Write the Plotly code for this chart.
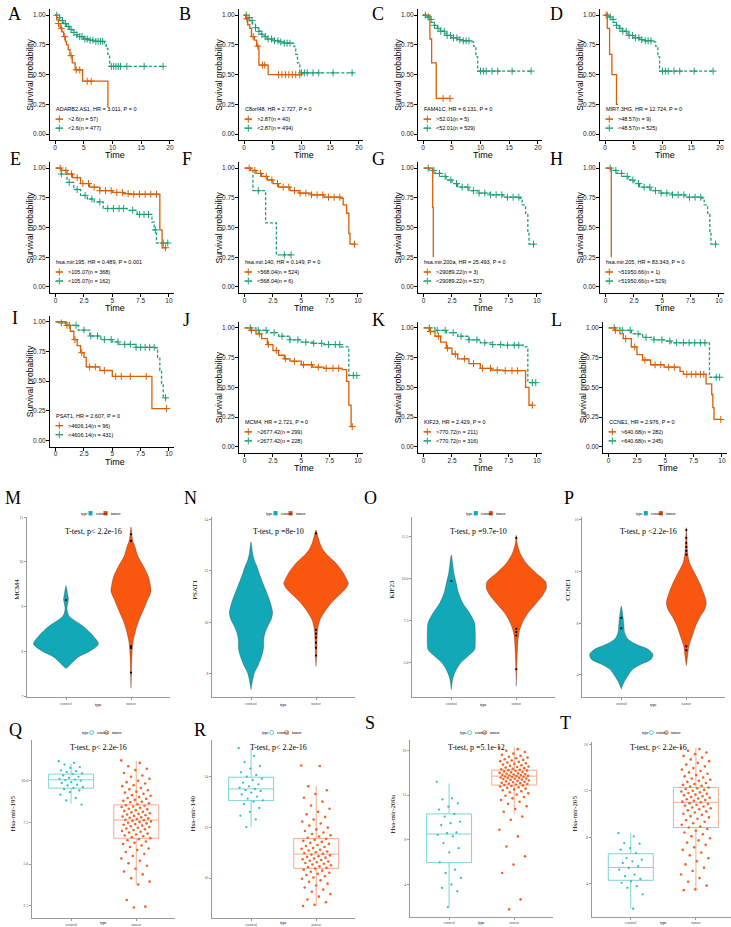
import plotly.graph_objects as go

W, H = 731, 927
OFF = 0
SANS = "Liberation Sans, Arial, sans-serif"
SERIF = "Liberation Serif, Times New Roman, serif"
ORANGE = "#D95F02"
GREEN = "#1B9E77"
V_CTRL = "#12A8B8"
V_TUM = "#F9560F"
B_CTRL = "#35BEC2"
B_TUM = "#F2652A"

# ================= Kaplan-Meier data (time in years, survival probability) =================
A_hi_t = [0, 0.3, 0.6, 0.9, 1.2, 1.5, 1.8, 2.0, 2.3, 2.6, 3.0, 3.5, 4.8, 9.2]
A_hi_s = [1.0, 0.96, 0.93, 0.89, 0.86, 0.82, 0.78, 0.75, 0.71, 0.66, 0.60, 0.54, 0.445, 0.225]
A_hi_c = [0.6, 1.1, 1.7, 2.8, 3.7, 4.3, 5.6, 6.3]
A_lo_t = [0, 0.5, 1, 1.5, 2, 2.5, 3, 3.5, 4, 5, 6, 7, 8.6, 8.9, 9.2, 9.5]
A_lo_s = [1.0, 0.98, 0.955, 0.93, 0.905, 0.88, 0.855, 0.835, 0.82, 0.80, 0.79, 0.78, 0.765, 0.72, 0.67, 0.57]
A_lo_c = [0.3, 0.8, 1.3, 1.8, 2.3, 2.8, 3.3, 3.8, 4.3, 4.7, 5.2, 5.6, 6.1, 6.6, 7.1, 7.5, 7.9, 8.3, 9.8, 10.2, 10.6, 11.0, 11.4, 12.5, 15.5, 18.8]

B_hi_t = [0, 0.3, 0.64, 1.0, 1.3, 1.8, 2.2, 2.6, 4.2]
B_hi_s = [1.0, 0.97, 0.92, 0.89, 0.82, 0.79, 0.74, 0.58, 0.50]
B_hi_c = [0.5, 1.6, 2.4, 3.2, 3.6, 6.0, 6.6, 7.2, 7.8, 8.4, 9.0, 9.7]
B_lo_t = [0, 0.5, 1, 1.5, 2, 2.5, 3, 3.5, 4, 5, 6, 7, 8.7, 9.0, 9.3, 9.7]
B_lo_s = [1.0, 0.98, 0.955, 0.925, 0.895, 0.865, 0.84, 0.82, 0.80, 0.785, 0.775, 0.765, 0.735, 0.67, 0.60, 0.515]
B_lo_c = [0.4, 0.9, 1.4, 2.0, 2.6, 3.1, 3.7, 4.2, 4.8, 5.3, 5.9, 6.4, 7.0, 7.5, 8.0, 10.0, 10.5, 11.0, 12.0, 13.0, 15.5, 18.8]

C_hi_t = [0, 1.2, 1.5, 2.3]
C_hi_s = [1.0, 0.8, 0.6, 0.3]
C_hi_c = [3.5, 4.7]
C_lo_t = [0, 0.5, 1, 1.5, 2, 2.5, 3, 4, 5, 6, 7, 8.5, 8.8, 9.2, 9.5]
C_lo_s = [1.0, 0.985, 0.965, 0.94, 0.915, 0.89, 0.865, 0.83, 0.81, 0.795, 0.785, 0.775, 0.74, 0.65, 0.53]
C_lo_c = [0.4, 0.9, 1.4, 2.0, 2.6, 3.1, 3.7, 4.2, 4.8, 5.3, 5.9, 6.4, 7.0, 7.5, 8.0, 10.0, 10.5, 11.0, 12.0, 13.0, 15.5, 18.8]

D_hi_t = [0, 0.4, 0.8, 1.2, 2.0]
D_hi_s = [1.0, 0.89, 0.67, 0.5, 0.25]
D_hi_c = [0.2]
D_lo_t = [0, 0.5, 1, 1.5, 2, 2.5, 3, 4, 5, 6, 7, 8.5, 8.8, 9.2, 9.5]
D_lo_s = [1.0, 0.985, 0.965, 0.94, 0.915, 0.89, 0.865, 0.83, 0.81, 0.795, 0.785, 0.775, 0.74, 0.65, 0.53]
D_lo_c = [0.4, 0.9, 1.4, 2.0, 2.6, 3.1, 3.7, 4.2, 4.8, 5.3, 5.9, 6.4, 7.0, 7.5, 8.0, 10.0, 10.5, 11.0, 12.0, 13.0, 15.5, 18.8]

E_hi_t = [0, 0.5, 1, 1.5, 2.2, 3, 3.9, 5, 6, 6.5, 9.2, 9.4]
E_hi_s = [1.0, 0.98, 0.95, 0.92, 0.87, 0.84, 0.81, 0.795, 0.785, 0.78, 0.48, 0.33]
E_hi_c = [0.4, 0.9, 1.4, 1.9, 2.4, 2.9, 3.4, 3.9, 4.4, 4.9, 5.4, 5.9, 6.4, 6.9, 7.4, 7.9, 8.4, 8.9, 9.7]
E_lo_t = [0, 0.5, 1, 1.6, 2.2, 2.8, 3.4, 4.2, 6.3, 7.2, 8.5, 8.7, 8.9]
E_lo_s = [1.0, 0.95, 0.88, 0.82, 0.77, 0.74, 0.715, 0.66, 0.645, 0.61, 0.546, 0.48, 0.37]
E_lo_c = [0.5, 1.2, 1.9, 2.6, 3.2, 3.9, 4.6, 5.1, 5.6, 6.0, 6.8, 7.4, 7.8, 8.2, 8.8, 9.5, 9.9]

F_hi_t = [0, 0.5, 1, 1.5, 2, 2.5, 3, 4, 4.8, 5.9, 7, 8.5, 8.7, 9.0, 9.2, 9.3]
F_hi_s = [1.0, 0.98, 0.955, 0.93, 0.90, 0.87, 0.84, 0.81, 0.79, 0.775, 0.755, 0.745, 0.69, 0.62, 0.45, 0.36]
F_hi_c = [0.4, 0.9, 1.4, 1.9, 2.4, 2.9, 3.4, 3.9, 4.4, 4.9, 5.4, 5.9, 6.4, 6.9, 7.4, 7.9, 8.4, 9.7]
F_lo_t = [0, 0.73, 1.85, 2.8]
F_lo_s = [1.0, 0.81, 0.54, 0.27]
F_lo_c = [1.2, 3.5, 4.1]

G_hi_t = [0, 0.8, 0.85]
G_hi_s = [1.0, 0.67, 0.25]
G_hi_c = []
G_lo_t = [0, 0.5, 1, 1.5, 2, 2.5, 3, 4, 4.8, 5.9, 7, 8.5, 8.7, 9.0, 9.2, 9.3]
G_lo_s = [1.0, 0.98, 0.955, 0.93, 0.90, 0.87, 0.84, 0.81, 0.79, 0.775, 0.755, 0.745, 0.69, 0.62, 0.45, 0.36]
G_lo_c = [0.4, 0.9, 1.4, 1.9, 2.4, 2.9, 3.4, 3.9, 4.4, 4.9, 5.4, 5.9, 6.4, 6.9, 7.4, 7.9, 8.4, 9.7]

H_hi_t = [0, 0.5]
H_hi_s = [1.0, 0.25]
H_hi_c = []
H_lo_t = [0, 0.5, 1, 1.5, 2, 2.5, 3, 4, 4.8, 5.9, 7, 8.5, 8.7, 9.0, 9.2, 9.3]
H_lo_s = [1.0, 0.98, 0.955, 0.93, 0.90, 0.87, 0.84, 0.81, 0.79, 0.775, 0.755, 0.745, 0.69, 0.62, 0.45, 0.36]
H_lo_c = [0.4, 0.9, 1.4, 1.9, 2.4, 2.9, 3.4, 3.9, 4.4, 4.9, 5.4, 5.9, 6.4, 6.9, 7.4, 7.9, 8.4, 9.7]

I_hi_t = [0, 0.9, 1.3, 1.6, 1.9, 2.2, 2.5, 2.7, 3.9, 5.0, 8.5]
I_hi_s = [1.0, 0.97, 0.92, 0.85, 0.80, 0.74, 0.70, 0.62, 0.59, 0.54, 0.27]
I_hi_c = [1.0, 1.7, 2.3, 3.0, 3.5, 4.3, 5.3, 5.8, 6.6, 8.0, 9.8]
I_lo_t = [0, 0.5, 1, 2, 3, 4, 5, 5.6, 7.1, 8.8, 9.0, 9.2, 9.35, 9.5]
I_lo_s = [1.0, 0.99, 0.97, 0.93, 0.88, 0.85, 0.83, 0.81, 0.785, 0.78, 0.70, 0.59, 0.48, 0.36]
I_lo_c = [0.5, 1.2, 1.8, 2.5, 3.1, 3.7, 4.3, 4.9, 5.5, 6.1, 6.6, 7.1, 7.5, 7.9, 8.3, 8.7, 9.7]

J_hi_t = [0, 0.5, 1, 1.5, 2, 2.5, 3, 3.5, 4, 5, 6, 7, 8.6, 9.0, 9.2, 9.4]
J_hi_s = [1.0, 0.98, 0.95, 0.91, 0.86, 0.81, 0.77, 0.74, 0.72, 0.69, 0.67, 0.66, 0.65, 0.55, 0.35, 0.17]
J_hi_c = [0.6, 1.3, 2.1, 2.8, 3.6, 4.4, 5.2, 5.9, 6.5, 7.2, 7.8, 8.3, 9.5]
J_lo_t = [0, 1, 2, 3, 4, 5, 6, 7, 8.5, 9.2]
J_lo_s = [1.0, 0.98, 0.96, 0.93, 0.90, 0.88, 0.87, 0.86, 0.84, 0.60]
J_lo_c = [0.5, 1.2, 1.9, 2.6, 3.3, 4.0, 4.7, 5.4, 6.1, 6.8, 7.4, 8.0, 8.4, 9.6, 9.9]

K_hi_t = [0, 0.5, 1, 1.5, 2, 2.5, 3, 4, 5, 6, 7, 8.6, 9.0, 9.3]
K_hi_s = [1.0, 0.97, 0.93, 0.88, 0.83, 0.78, 0.74, 0.70, 0.66, 0.645, 0.64, 0.64, 0.50, 0.35]
K_hi_c = [0.6, 1.3, 2.1, 2.8, 3.6, 4.4, 5.2, 5.9, 6.5, 7.2, 7.8, 8.3, 9.6]
K_lo_t = [0, 1, 2, 3, 4, 5, 6, 7, 8.8, 9.2]
K_lo_s = [1.0, 0.98, 0.96, 0.93, 0.90, 0.875, 0.86, 0.855, 0.84, 0.54]
K_lo_c = [0.5, 1.2, 1.9, 2.6, 3.3, 4.0, 4.7, 5.4, 6.1, 6.8, 7.4, 8.0, 8.4, 9.6, 9.9]

L_hi_t = [0, 0.5, 1, 1.3, 2, 2.5, 3, 3.7, 4.9, 6.3, 6.6, 8.6, 9.1, 9.2, 9.3]
L_hi_s = [1.0, 0.98, 0.95, 0.91, 0.84, 0.775, 0.73, 0.69, 0.67, 0.635, 0.61, 0.53, 0.44, 0.33, 0.23]
L_hi_c = [0.6, 1.5, 2.3, 3.2, 4.1, 4.6, 5.3, 5.8, 6.9, 7.3, 7.7, 8.1, 8.4, 9.9]
L_lo_t = [0, 1, 2, 3, 4, 5, 5.5, 8.9]
L_lo_s = [1.0, 0.98, 0.95, 0.92, 0.90, 0.89, 0.875, 0.585]
L_lo_c = [0.5, 1.2, 1.9, 2.6, 3.3, 4.0, 4.7, 5.4, 6.0, 6.6, 7.1, 7.6, 8.1, 8.5, 9.5, 9.8]

KM_LETTERS = list("ABCDEFGHIJKL")
KM_TITLES = ["ADARB2.AS1, HR = 3.011, P = 0", "C8orf48, HR = 2.727, P = 0",
             "FAM41C, HR = 6.131, P = 0", "MIR7.3HG, HR = 12.724, P = 0",
             "hsa.mir.195, HR = 0.489, P = 0.001", "hsa.mir.140, HR = 0.149, P = 0",
             "hsa.mir.200a, HR = 25.493, P = 0", "hsa.mir.205, HR = 83.343, P = 0",
             "PSAT1, HR = 2.607, P = 0", "MCM4, HR = 2.721, P = 0",
             "KIF23, HR = 2.429, P = 0", "CCNE1, HR = 2.976, P = 0"]
KM_HI_LAB = [">2.6(n = 57)", ">2.87(n = 40)", ">52.01(n = 5)", ">48.57(n = 9)",
             ">105.07(n = 368)", ">568.04(n = 524)", ">29089.22(n = 3)", ">51950.66(n = 1)",
             ">4606.14(n = 96)", ">2677.42(n = 299)", ">770.72(n = 211)", ">640.68(n = 282)"]
KM_LO_LAB = ["<2.6(n = 477)", "<2.87(n = 494)", "<52.01(n = 529)", "<48.57(n = 525)",
             "<105.07(n = 162)", "<568.04(n = 6)", "<29089.22(n = 527)", "<51950.66(n = 529)",
             "<4606.14(n = 431)", "<2677.42(n = 228)", "<770.72(n = 316)", "<640.68(n = 245)"]
KM_HI_END = [9.2, 10.0, 4.7, 2.3, 9.8, 9.8, 0.85, 0.5, 9.8, 9.5, 9.6, 9.9]
KM_LO_END = [19.0, 19.0, 19.0, 19.0, 9.9, 4.1, 9.8, 9.8, 9.8, 9.9, 9.9, 9.8]

# ================= Violin data (M-P): y levels and half widths =================
M_c_y = [9.47, 9.30, 9.16, 9.05, 8.94, 8.79, 8.57, 8.35, 8.17, 8.02, 7.87, 7.73, 7.62]
M_c_w = [0, 0.023, 0.038, 0.023, 0.015, 0.05, 0.26, 0.42, 0.50, 0.38, 0.18, 0.08, 0]
M_t_y = [10.78, 10.49, 10.34, 10.12, 9.90, 9.68, 9.49, 9.34, 9.16, 8.94, 8.72, 8.50, 8.21, 7.91, 7.54, 7.18]
M_t_w = [0, 0.026, 0.062, 0.108, 0.195, 0.266, 0.297, 0.308, 0.257, 0.195, 0.128, 0.077, 0.031, 0.015, 0.008, 0]
M_c_box = [7.95, 8.10, 8.26, 8.44, 8.62]
M_t_box = [8.19, 9.00, 9.29, 9.54, 10.35]
M_c_out = [9.15]
M_t_out = [10.62, 10.47, 8.12, 8.08, 7.53]

N_c_y = [13.12, 12.67, 12.41, 12.16, 11.77, 11.38, 10.99, 10.67, 10.35, 10.09, 9.83, 9.57, 9.31, 9.05, 8.80, 8.54, 8.28, 8.02, 7.76, 7.38]
N_c_w = [0, 0.026, 0.051, 0.092, 0.144, 0.205, 0.267, 0.308, 0.333, 0.308, 0.256, 0.215, 0.195, 0.195, 0.179, 0.144, 0.103, 0.051, 0.026, 0]
N_t_y = [13.58, 13.32, 13.06, 12.80, 12.54, 12.29, 11.96, 11.64, 11.51, 11.32, 11.06, 10.80, 10.48, 10.09, 9.70, 9.19, 8.67, 8.28]
N_t_w = [0, 0.031, 0.062, 0.113, 0.205, 0.308, 0.41, 0.477, 0.497, 0.462, 0.359, 0.256, 0.154, 0.062, 0.026, 0.015, 0.010, 0]
N_c_box = [8.57, 9.50, 10.24, 10.70, 11.90]
N_t_box = [9.95, 11.09, 11.54, 11.94, 13.2]
N_c_out = []
N_t_out = [13.45, 9.7, 9.55, 9.4, 9.2, 9.0, 8.7]

O_c_y = [11.38, 10.89, 10.30, 9.70, 9.11, 8.52, 7.93, 7.34, 6.75, 6.15, 5.76, 5.36, 4.97, 4.57, 4.08, 3.39]
O_c_w = [0, 0.021, 0.041, 0.077, 0.113, 0.179, 0.282, 0.359, 0.369, 0.369, 0.359, 0.256, 0.144, 0.077, 0.026, 0]
O_t_y = [12.56, 12.07, 11.48, 10.89, 10.30, 9.80, 9.41, 9.01, 8.52, 7.93, 7.34, 6.75, 5.95, 4.97, 3.59]
O_t_w = [0, 0.015, 0.062, 0.154, 0.308, 0.451, 0.462, 0.41, 0.308, 0.179, 0.092, 0.041, 0.021, 0.010, 0]
O_c_box = [4.87, 5.89, 6.80, 7.34, 8.72]
O_t_box = [7.14, 8.76, 9.41, 9.94, 11.67]
O_c_out = [9.84]
O_t_out = [12.4, 7.0, 6.8, 6.6, 4.6]

P_c_y = [9.31, 8.54, 7.77, 7.26, 6.75, 6.36, 5.98, 5.59, 5.21, 4.82, 4.44, 3.92, 3.41, 2.90]
P_c_w = [0, 0.026, 0.041, 0.051, 0.103, 0.231, 0.41, 0.487, 0.462, 0.308, 0.179, 0.103, 0.041, 0]
P_t_y = [15.4, 14.44, 13.42, 12.65, 11.88, 11.11, 10.34, 9.57, 9.05, 8.41, 7.77, 7.0, 6.23, 5.46, 4.69]
P_t_w = [0, 0.010, 0.021, 0.051, 0.128, 0.205, 0.267, 0.308, 0.282, 0.205, 0.144, 0.092, 0.041, 0.021, 0]
P_c_box = [4.18, 5.15, 5.67, 6.11, 7.51]
P_t_box = [6.49, 8.49, 9.44, 10.42, 12.9]
P_c_out = [8.4, 7.6]
P_t_out = [15.2, 14.6, 14.2, 13.9, 13.6, 13.3, 6.2, 5.9]

# ================= Box + jitter data (Q-T): [lower whisker, q1, median, q3, upper whisker] =================
Q_c_box = [8.6, 9.54, 10.04, 10.38, 11.0]
Q_t_box = [3.75, 6.54, 7.63, 8.54, 11.17]
Q_c_pts = [11.15, 11.05, 10.95, 10.8, 10.75, 10.6, 10.55, 10.5, 10.42, 10.38, 10.3, 10.22, 10.15, 10.1, 10.05,
           10.02, 9.98, 9.9, 9.85, 9.75, 9.7, 9.6, 9.55, 9.48, 9.4, 9.3, 9.15, 8.95, 8.8, 8.55]
Q_t_pts = [11.2, 11.05, 10.85, 10.7, 10.62, 10.45, 10.3, 10.22, 10.1, 9.98, 9.9, 9.82, 9.71, 9.66, 9.55, 9.48,
           9.41, 9.33, 9.27, 9.2, 9.12, 9.08, 9.01, 8.95, 8.9, 8.84, 8.78, 8.72, 8.69, 8.63, 8.58, 8.52, 8.49,
           8.44, 8.41, 8.36, 8.31, 8.27, 8.22, 8.18, 8.13, 8.09, 8.04, 8.0, 7.96, 7.92, 7.88, 7.84, 7.8, 7.77,
           7.73, 7.69, 7.65, 7.62, 7.58, 7.55, 7.51, 7.47, 7.43, 7.39, 7.35, 7.3, 7.26, 7.22, 7.17, 7.13, 7.08,
           7.03, 6.98, 6.93, 6.88, 6.82, 6.77, 6.71, 6.66, 6.6, 6.55, 6.49, 6.42, 6.35, 6.27, 6.2, 6.11, 6.02,
           5.93, 5.84, 5.72, 5.6, 5.48, 5.33, 5.2, 5.05, 4.9, 4.72, 4.55, 4.38, 4.15, 3.95, 3.78, 2.85, 2.45, 2.4]

R_c_box = [12.0, 13.04, 13.5, 13.96, 15.1]
R_t_box = [8.9, 10.38, 10.94, 11.55, 13.6]
R_c_pts = [15.1, 14.8, 14.55, 14.4, 14.3, 14.15, 14.05, 13.98, 13.9, 13.85, 13.75, 13.68, 13.6, 13.55, 13.5,
           13.45, 13.42, 13.35, 13.28, 13.2, 13.12, 13.05, 13.0, 12.9, 12.75, 12.6, 12.45, 12.3, 12.0]
R_t_pts = [14.42, 14.4, 13.6, 13.45, 13.3, 13.15, 13.0, 12.85, 12.72, 12.6, 12.5, 12.4, 12.3, 12.22, 12.14,
           12.06, 11.98, 11.91, 11.85, 11.79, 11.73, 11.68, 11.63, 11.58, 11.54, 11.5, 11.46, 11.42, 11.38,
           11.34, 11.3, 11.26, 11.22, 11.18, 11.15, 11.11, 11.08, 11.04, 11.01, 10.98, 10.95, 10.92, 10.89,
           10.86, 10.83, 10.8, 10.77, 10.74, 10.71, 10.68, 10.65, 10.62, 10.59, 10.56, 10.53, 10.5, 10.46,
           10.43, 10.4, 10.37, 10.33, 10.29, 10.25, 10.21, 10.17, 10.12, 10.07, 10.02, 9.97, 9.91, 9.85,
           9.78, 9.71, 9.63, 9.55, 9.46, 9.37, 9.27, 9.16, 9.05, 8.95, 8.9]

S_c_box = [1.98, 5.96, 8.51, 10.31, 13.03]
S_t_box = [10.31, 12.89, 13.69, 14.22, 16.23]
S_c_pts = [13.18, 11.7, 11.61, 11.26, 10.96, 10.7, 10.31, 10.07, 9.63, 9.48, 9.33, 8.65, 8.59, 8.44, 8.3,
           7.7, 7.25, 6.87, 5.98, 5.33, 5.03, 4.59, 4.0, 3.7, 3.4, 1.98]
S_t_pts = [16.23, 16.1, 15.95, 15.85, 15.7, 15.6, 15.5, 15.42, 15.35, 15.28, 15.2, 15.14, 15.08, 15.02, 14.96,
           14.9, 14.84, 14.78, 14.72, 14.66, 14.6, 14.55, 14.5, 14.45, 14.4, 14.35, 14.3, 14.26, 14.22, 14.18,
           14.14, 14.1, 14.06, 14.02, 13.98, 13.94, 13.9, 13.87, 13.84, 13.81, 13.78, 13.75, 13.72, 13.69,
           13.66, 13.63, 13.6, 13.57, 13.54, 13.51, 13.48, 13.45, 13.42, 13.38, 13.34, 13.3, 13.26, 13.22,
           13.18, 13.14, 13.1, 13.06, 13.02, 12.98, 12.94, 12.9, 12.86, 12.81, 12.76, 12.7, 12.64, 12.57,
           12.5, 12.42, 12.34, 12.25, 12.15, 12.05, 11.94, 11.82, 11.7, 11.55, 11.4, 11.22, 11.0, 10.75,
           10.5, 10.07, 9.78, 8.89, 8.3, 7.4, 6.52, 5.78, 5.03, 2.67, 1.78]

T_c_box = [1.83, 4.28, 5.39, 6.57, 8.34]
T_t_box = [3.43, 8.83, 11.0, 12.28, 15.71]
T_c_pts = [8.34, 8.06, 7.49, 7.43, 7.06, 6.92, 6.63, 6.2, 6.06, 5.92, 5.77, 5.49, 5.34, 5.2, 4.77, 4.63,
           4.4, 4.2, 4.06, 3.77, 3.63, 3.06, 1.83]
T_t_pts = [15.71, 15.6, 15.45, 15.3, 15.15, 15.0, 14.85, 14.7, 14.55, 14.4, 14.25, 14.1, 13.95, 13.82, 13.7,
           13.58, 13.46, 13.35, 13.24, 13.14, 13.04, 12.94, 12.85, 12.76, 12.67, 12.58, 12.5, 12.42, 12.35,
           12.28, 12.21, 12.14, 12.07, 12.0, 11.93, 11.86, 11.8, 11.73, 11.66, 11.6, 11.53, 11.46, 11.4,
           11.33, 11.26, 11.2, 11.13, 11.06, 11.0, 10.93, 10.86, 10.79, 10.72, 10.64, 10.56, 10.48, 10.4,
           10.31, 10.22, 10.12, 10.02, 9.92, 9.81, 9.7, 9.58, 9.46, 9.33, 9.2, 9.06, 8.92, 8.83, 8.7, 8.55,
           8.4, 8.24, 8.07, 7.9, 7.72, 7.53, 7.33, 7.12, 6.9, 6.67, 6.43, 6.18, 5.92, 5.65, 5.37, 5.08, 4.78,
           4.47, 4.15, 3.82, 3.5, 3.43]

VIO_LABELS = ["MCM4", "PSAT1", "KIF23", "CCNE1"]
VIO_TITLES = ["T-test, p< 2.2e-16", "T-test, p =8e-10", "T-test, p =9.7e-10", "T-test, p <2.2e-16"]
BOX_LABELS = ["Hsa-mir-195", "Hsa-mir-140", "Hsa-mir-200a", "Hsa-mir-205"]
BOX_TITLES = ["T-test, p< 2.2e-16", "T-test, p< 2.2e-16", "T-test, p =5.1e-12", "T-test, p< 2.2e-16"]

# ================= helpers =================
fig = go.Figure()
layout = {}
annotations = []
shapes = []
counter = [0]


def fxp(px):
    return (px - OFF) / W


def fyp(py):
    return 1 - (py - OFF) / H


def new_axes(left, right, top, bottom, xr, yr):
    xr = list(xr)
    yr = list(yr)
    if top < OFF:
        yr[1] = yr[1] - (OFF - top) * (yr[1] - yr[0]) / (bottom - top)
        top = OFF
    if right > W:
        xr[1] = xr[1] - (right - W) * (xr[1] - xr[0]) / (right - left)
        right = W
    counter[0] += 1
    k = counter[0]
    s = "" if k == 1 else str(k)
    layout["xaxis" + s] = dict(domain=[fxp(left), fxp(right)], range=xr, anchor="y" + s,
                               showgrid=False, zeroline=False, fixedrange=True)
    layout["yaxis" + s] = dict(domain=[fyp(bottom), fyp(top)], range=yr, anchor="x" + s,
                               showgrid=False, zeroline=False, fixedrange=True)
    return "x" + s, "y" + s, "xaxis" + s, "yaxis" + s, xr


def ptext(px, py, s, size, family=SANS, color="black", xanchor="center", angle=0):
    annotations.append(dict(x=fxp(px), y=fyp(py), xref="paper", yref="paper", text=s, showarrow=False,
                            font=dict(family=family, size=size, color=color), xanchor=xanchor,
                            yanchor="middle", textangle=angle))


def prect(x0, y0, x1, y1, color):
    shapes.append(dict(type="rect", xref="paper", yref="paper", x0=fxp(x0), x1=fxp(x1),
                       y0=fyp(y1), y1=fyp(y0), fillcolor=color, line=dict(width=0)))


def surv_at(t, s, tc):
    v = s[0]
    for ti, si in zip(t, s):
        if ti <= tc:
            v = si
    return v


def add_km_curve(xa, ya, t, s, end, cens, color, dash):
    fig.add_trace(go.Scatter(x=list(t) + [end], y=list(s) + [s[-1]], mode="lines",
                             line=dict(color=color, width=1.3, dash=dash, shape="hv"),
                             xaxis=xa, yaxis=ya, hoverinfo="skip", showlegend=False))
    if cens:
        fig.add_trace(go.Scatter(x=cens, y=[surv_at(t, s, c) for c in cens], mode="markers",
                                 marker=dict(symbol="cross-thin", size=5, line=dict(color=color, width=1)),
                                 xaxis=xa, yaxis=ya, hoverinfo="skip", showlegend=False))


KM_DATA = [
    (A_hi_t, A_hi_s, A_hi_c, A_lo_t, A_lo_s, A_lo_c), (B_hi_t, B_hi_s, B_hi_c, B_lo_t, B_lo_s, B_lo_c),
    (C_hi_t, C_hi_s, C_hi_c, C_lo_t, C_lo_s, C_lo_c), (D_hi_t, D_hi_s, D_hi_c, D_lo_t, D_lo_s, D_lo_c),
    (E_hi_t, E_hi_s, E_hi_c, E_lo_t, E_lo_s, E_lo_c), (F_hi_t, F_hi_s, F_hi_c, F_lo_t, F_lo_s, F_lo_c),
    (G_hi_t, G_hi_s, G_hi_c, G_lo_t, G_lo_s, G_lo_c), (H_hi_t, H_hi_s, H_hi_c, H_lo_t, H_lo_s, H_lo_c),
    (I_hi_t, I_hi_s, I_hi_c, I_lo_t, I_lo_s, I_lo_c), (J_hi_t, J_hi_s, J_hi_c, J_lo_t, J_lo_s, J_lo_c),
    (K_hi_t, K_hi_s, K_hi_c, K_lo_t, K_lo_s, K_lo_c), (L_hi_t, L_hi_s, L_hi_c, L_lo_t, L_lo_s, L_lo_c),
]

# panel geometry (pixels of the target picture)
KM_LEFT = [50, 239, 418, 600, 50, 239, 418, 600, 50, 239, 418, 603]
KM_TOP = [6.3, 6.3, 6.3, 6.3, 160, 160, 160, 160, 314.5, 320.7, 320.7, 320.7]
KM_LETTER_XY = [(14, 11), (185, 11), (378, 11), (556, 11), (15, 157), (187, 157), (378, 157), (556, 157),
                (15, 317), (186, 319), (378, 319), (556, 319)]

AX_KM = dict(showline=True, linecolor="black", linewidth=1, ticks="outside", ticklen=3, tickwidth=1,
             tickcolor="black", tickfont=dict(family=SANS, size=6.5, color="#222"))

for i in range(12):
    left, top = KM_LEFT[i], KM_TOP[i]
    right, bottom = left + 124, top + 131.5
    row1 = i < 4
    xr0 = [-0.87, 20.7] if row1 else [-0.5, 10.45]
    xa, ya, xl, yl, xr = new_axes(left, right, top, bottom, xr0, [-0.05, 1.05])
    layout[xl].update(AX_KM, ticklabelstandoff=-2,
                      tickvals=[0, 5, 10, 15, 20] if row1 else [0, 2.5, 5, 7.5, 10],
                      ticktext=["0", "5", "10", "15", "20"] if row1 else ["0", "2.5", "5", "7.5", "10"])
    layout[yl].update(AX_KM, ticklabelstandoff=-1, tickvals=[0, 0.25, 0.5, 0.75, 1.0],
                      ticktext=["0.00", "0.25", "0.50", "0.75", "1.00"])
    ht, hs, hc, lt, ls, lc = KM_DATA[i]
    add_km_curve(xa, ya, lt, ls, KM_LO_END[i], lc, GREEN, "3px,2px")
    add_km_curve(xa, ya, ht, hs, KM_HI_END[i], hc, ORANGE, "solid")
    fx = lambda f: xr[0] + f * (xr[1] - xr[0])
    annotations.append(dict(x=0.03, y=0.21, xref=xa + " domain", yref=ya, text=KM_TITLES[i], showarrow=False,
                            xanchor="left", yanchor="middle", font=dict(family=SANS, size=5.5, color="black")))
    for yv, col, dash, lab in [(0.126, ORANGE, "solid", KM_HI_LAB[i]), (0.05, GREEN, "3px,2px", KM_LO_LAB[i])]:
        fig.add_trace(go.Scatter(x=[fx(0.045), fx(0.105)], y=[yv, yv], mode="lines",
                                 line=dict(color=col, width=1.2, dash=dash), xaxis=xa, yaxis=ya,
                                 hoverinfo="skip", showlegend=False))
        fig.add_trace(go.Scatter(x=[fx(0.075)], y=[yv], mode="markers",
                                 marker=dict(symbol="cross-thin", size=5, line=dict(color=col, width=1)),
                                 xaxis=xa, yaxis=ya, hoverinfo="skip", showlegend=False))
        annotations.append(dict(x=0.13, y=yv, xref=xa + " domain", yref=ya, text=lab, showarrow=False,
                                xanchor="left", yanchor="middle", font=dict(family=SANS, size=5.5, color="black")))
    ptext(left - 20, (top + bottom) / 2, "Survival probability", 8.5, angle=-90)
    ptext((left + right) / 2 + 3, bottom + 15.5, "Time", 9)
    lx, ly = KM_LETTER_XY[i]
    ptext(lx, ly, KM_LETTERS[i], 18, family=SERIF)

# ---------------- violin panels ----------------
AX_SMALL = dict(showline=True, linecolor="#9a9a9a", linewidth=0.8, ticks="outside", ticklen=2, tickwidth=0.6,
                tickcolor="#9a9a9a", tickfont=dict(family=SERIF, size=4, color="#555"))

VIO = [
    (M_c_y, M_c_w, M_t_y, M_t_w, M_c_box, M_t_box, M_c_out, M_t_out),
    (N_c_y, N_c_w, N_t_y, N_t_w, N_c_box, N_t_box, N_c_out, N_t_out),
    (O_c_y, O_c_w, O_t_y, O_t_w, O_c_box, O_t_box, O_c_out, O_t_out),
    (P_c_y, P_c_w, P_t_y, P_t_w, P_c_box, P_t_box, P_c_out, P_t_out),
]
VIO_LEFT = [27, 212, 412.3, 582.3]
VIO_YR = [[6.98, 11.0], [7.08, 14.08], [2.93, 13.63], [2.26, 16.2]]
VIO_TICKS = [[7, 8, 9, 10, 11], [8, 10, 12, 14], [5.0, 7.5, 10.0, 12.5], [4, 8, 12, 16]]
VIO_TICKTXT = [["7", "8", "9", "10", "11"], ["8", "10", "12", "14"], ["5.0", "7.5", "10.0", "12.5"],
               ["4", "8", "12", "16"]]
VIO_LETTER_XY = [(13, 498), (190, 498), (370, 498), (569, 498)]
VIO_YLAB_X = [17, 195, 392, 568]


def violin_shape(xa, ya, c, ys, ws, color):
    xs = [c + w for w in ws] + [c - w for w in reversed(ws)]
    yy = list(ys) + list(reversed(ys))
    fig.add_trace(go.Scatter(x=xs, y=yy, mode="lines", fill="toself", fillcolor=color,
                             line=dict(color="rgba(30,30,30,0.55)", width=0.5, shape="spline", smoothing=0.8),
                             xaxis=xa, yaxis=ya, hoverinfo="skip", showlegend=False))


def stat_box(xa, ya, c, st, width, fill, lc, lw):
    fig.add_trace(go.Box(x=[c], lowerfence=[st[0]], q1=[st[1]], median=[st[2]], q3=[st[3]],
                         upperfence=[st[4]], width=width, fillcolor=fill, line=dict(color=lc, width=lw),
                         whiskerwidth=0, boxpoints=False, xaxis=xa, yaxis=ya, hoverinfo="skip",
                         showlegend=False))


def type_legend(cx, cy, marker_style):
    ptext(cx - 14, cy, "type", 4, family=SERIF)
    if marker_style == "square":
        prect(cx - 10, cy - 2.2, cx - 6, cy + 2.2, V_CTRL)
        prect(cx + 5, cy - 2.2, cx + 9, cy + 2.2, V_TUM)
    else:
        shapes.append(dict(type="circle", xref="paper", yref="paper", x0=fxp(cx - 10), x1=fxp(cx - 6),
                           y0=fyp(cy + 2), y1=fyp(cy - 2), line=dict(color=B_CTRL, width=0.8)))
        shapes.append(dict(type="circle", xref="paper", yref="paper", x0=fxp(cx + 5), x1=fxp(cx + 9),
                           y0=fyp(cy + 2), y1=fyp(cy - 2), line=dict(color=B_TUM, width=0.8)))
    ptext(cx - 5, cy, "control", 4, family=SERIF, xanchor="left")
    ptext(cx + 10, cy, "tumor", 4, family=SERIF, xanchor="left")


for i in range(4):
    left = VIO_LEFT[i]
    right = left + 143
    top, bottom = 517, 698
    xa, ya, xl, yl, _ = new_axes(left, right, top, bottom, [0.4, 2.6], VIO_YR[i])
    layout[xl].update(AX_SMALL, tickvals=[1, 2], ticktext=["control", "tumor"])
    layout[yl].update(AX_SMALL, tickvals=VIO_TICKS[i], ticktext=VIO_TICKTXT[i])
    cy_, cw_, ty_, tw_, cb, tb, co, to = VIO[i]
    violin_shape(xa, ya, 1, cy_, cw_, V_CTRL)
    violin_shape(xa, ya, 2, ty_, tw_, V_TUM)
    stat_box(xa, ya, 1, cb, 0.2, "white", "black", 0.6)
    stat_box(xa, ya, 2, tb, 0.2, "white", "black", 0.6)
    outs_x = [1] * len(co) + [2] * len(to)
    fig.add_trace(go.Scatter(x=outs_x, y=list(co) + list(to), mode="markers",
                             marker=dict(size=2.2, color="black"), xaxis=xa, yaxis=ya,
                             hoverinfo="skip", showlegend=False))
    cx = (left + right) / 2
    ptext(cx - 5, 531, VIO_TITLES[i], 8, family=SERIF)
    type_legend(cx, 513, "square")
    ptext(cx, 705, "type", 4, family=SERIF)
    ptext(VIO_YLAB_X[i], 590, VIO_LABELS[i], 7, family=SERIF, angle=-90)
    lx, ly = VIO_LETTER_XY[i]
    ptext(lx, ly, "MNOP"[i], 18, family=SERIF)

# ---------------- box + jitter panels ----------------
BOXD = [
    (Q_c_box, Q_t_box, Q_c_pts, Q_t_pts),
    (R_c_box, R_t_box, R_c_pts, R_t_pts),
    (S_c_box, S_t_box, S_c_pts, S_t_pts),
    (T_c_box, T_t_box, T_c_pts, T_t_pts),
]
BOX_LEFT = [32, 212, 410, 591.7]
BOX_TOP = [741, 741, 741.3, 743]
BOX_BOTTOM = [920, 920, 918.7, 918.7]
BOX_YR = [[1.77, 12.42], [8.43, 15.42], [1.12, 16.89], [1.14, 16.2]]
BOX_TICKS = [[2.5, 5.0, 7.5, 10.0], [10, 12, 14], [4, 8, 12, 16], [4, 8, 12, 16]]
BOX_TICKTXT = [["2.5", "5.0", "7.5", "10.0"], ["10", "12", "14"], ["4", "8", "12", "16"], ["4", "8", "12", "16"]]
BOX_LETTER_XY = [(15, 731), (200, 731), (370, 724), (565, 724)]
BOX_YLAB_X = [13, 193, 393, 575]


def jitter_offsets(n, amp):
    return [((j * 0.6180339887) % 1 - 0.5) * 2 * amp for j in range(n)]


for i in range(4):
    left = BOX_LEFT[i]
    right = left + 143.3
    top, bottom = BOX_TOP[i], BOX_BOTTOM[i]
    xa, ya, xl, yl, _ = new_axes(left, right, top, bottom, [0.4, 2.6], BOX_YR[i])
    layout[xl].update(AX_SMALL, tickvals=[1, 2], ticktext=["control", "tumor"])
    layout[yl].update(AX_SMALL, tickvals=BOX_TICKS[i], ticktext=BOX_TICKTXT[i])
    cb, tb, cp, tp = BOXD[i]
    stat_box(xa, ya, 1, cb, 0.69, "rgba(255,255,255,0)", "#6ED0D0", 0.9)
    stat_box(xa, ya, 2, tb, 0.69, "rgba(255,255,255,0)", "#F6A27F", 0.9)
    fig.add_trace(go.Scatter(x=[1 + d for d in jitter_offsets(len(cp), 0.19)], y=cp, mode="markers",
                             marker=dict(size=2.3, color=B_CTRL), xaxis=xa, yaxis=ya,
                             hoverinfo="skip", showlegend=False))
    fig.add_trace(go.Scatter(x=[2 + d for d in jitter_offsets(len(tp), 0.23)], y=tp, mode="markers",
                             marker=dict(size=2.6, color=B_TUM), xaxis=xa, yaxis=ya,
                             hoverinfo="skip", showlegend=False))
    cx = (left + right) / 2
    ptext(cx - 5, 749, BOX_TITLES[i], 8, family=SERIF)
    type_legend(cx - 4, 733.5, "circle")
    ptext(cx, 924, "type", 4, family=SERIF)
    ptext(BOX_YLAB_X[i], 815, BOX_LABELS[i], 7, family=SERIF, angle=-90)
    lx, ly = BOX_LETTER_XY[i]
    ptext(lx, ly, "QRST"[i], 18, family=SERIF)

fig.update_layout(width=W, height=H, margin=dict(l=0, r=0, t=0, b=0), plot_bgcolor="white",
                  paper_bgcolor="white", showlegend=False, annotations=annotations, shapes=shapes,
                  boxmode="overlay", **layout)
fig.write_html("out.html", config={"displayModeBar": False},
               post_script="document.body.style.margin='0px';")
